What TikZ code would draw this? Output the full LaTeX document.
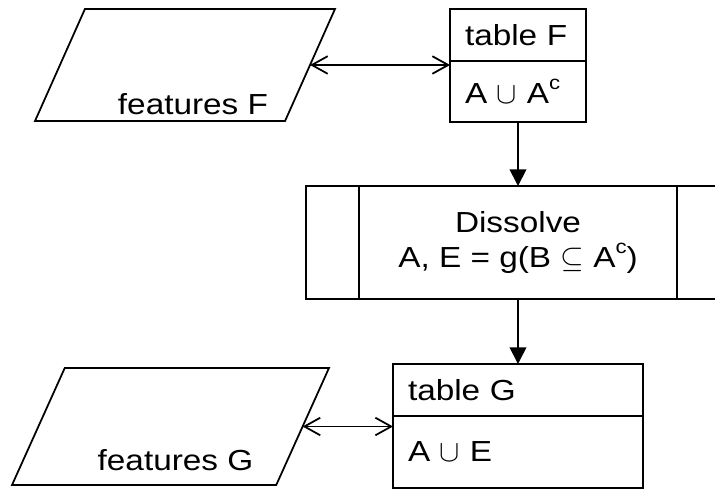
\documentclass[tikz,border=0pt]{standalone}
\usepackage{fontspec}
\setmainfont{Liberation Sans}[FakeStretch=1.15]
\usetikzlibrary{shapes.geometric, positioning, arrows.meta}
\tikzstyle{data} = [trapezium,draw,trapezium left angle=76,trapezium right angle=104,trapezium stretches=true,outer sep=0pt]
\tikzstyle{cell} = [draw,align=left,inner xsep=0.3cm,outer sep=0pt]
\tikzstyle{proc} = [draw,minimum width=8.48cm,minimum height=2.26cm,align=center,outer sep=0pt]
\tikzstyle{link} = [{Straight Barb[length=9pt,width=10pt]}-{Straight Barb[length=9pt,width=10pt]}]
\tikzstyle{flow} = [-{Triangle[length=9.5pt,width=9.5pt]}]
\newcommand{\cmpl}{\raisebox{0.5em}{\fontsize{11}{13}\selectfont c}}

\begin{document}
\begin{tikzpicture}[x=0.02cm,y=-0.02cm,line width=1pt,font=\fontsize{16.5}{20}\selectfont]
	\useasboundingbox (0,0) rectangle (715,489);

	% inputs
	\node[data,minimum width=6cm,minimum height=2.24cm,
		label={[anchor=south,inner sep=3pt,xshift=0.16cm]south:features F}](pf) at (185,65) {};
	\node[data,minimum width=6.34cm,minimum height=2.34cm,
		label={[anchor=south,inner sep=3pt,xshift=0.1cm,yshift=0.17cm]south:features G}](pg) at (170.5,426.5) {};

	% tables
	\node[cell,text width=2.12cm,minimum height=1.04cm,anchor=north west](tfh) at (450,9) {table F};
	\node[cell,text width=2.12cm,minimum height=1.22cm,below=0pt of tfh](tfb) {A $\cup$ A\cmpl};
	\node[cell,text width=4.4cm,minimum height=1.04cm,anchor=north west](tgh) at (393,364) {table G};
	\node[cell,text width=4.4cm,minimum height=1.44cm,below=0pt of tgh](tgb) {A $\cup$ E};

	% process
	\node[proc](dis) at (518,242.5) {Dissolve\\A, E = g(B $\subseteq$ A\cmpl)};
	\draw ([xshift=1.06cm]dis.north west) -- ([xshift=1.06cm]dis.south west);
	\draw ([xshift=-1.06cm]dis.north east) -- ([xshift=-1.06cm]dis.south east);

	\draw[link] (pf.east) -- (pf.east -| tfb.west);
	\draw[link] (pg.east) -- (pg.east -| tgb.west);
	\draw[flow] (tfb.south) -- (dis.north);
	\draw[flow] (dis.south) -- (tgh.north);

\end{tikzpicture}
\end{document}
